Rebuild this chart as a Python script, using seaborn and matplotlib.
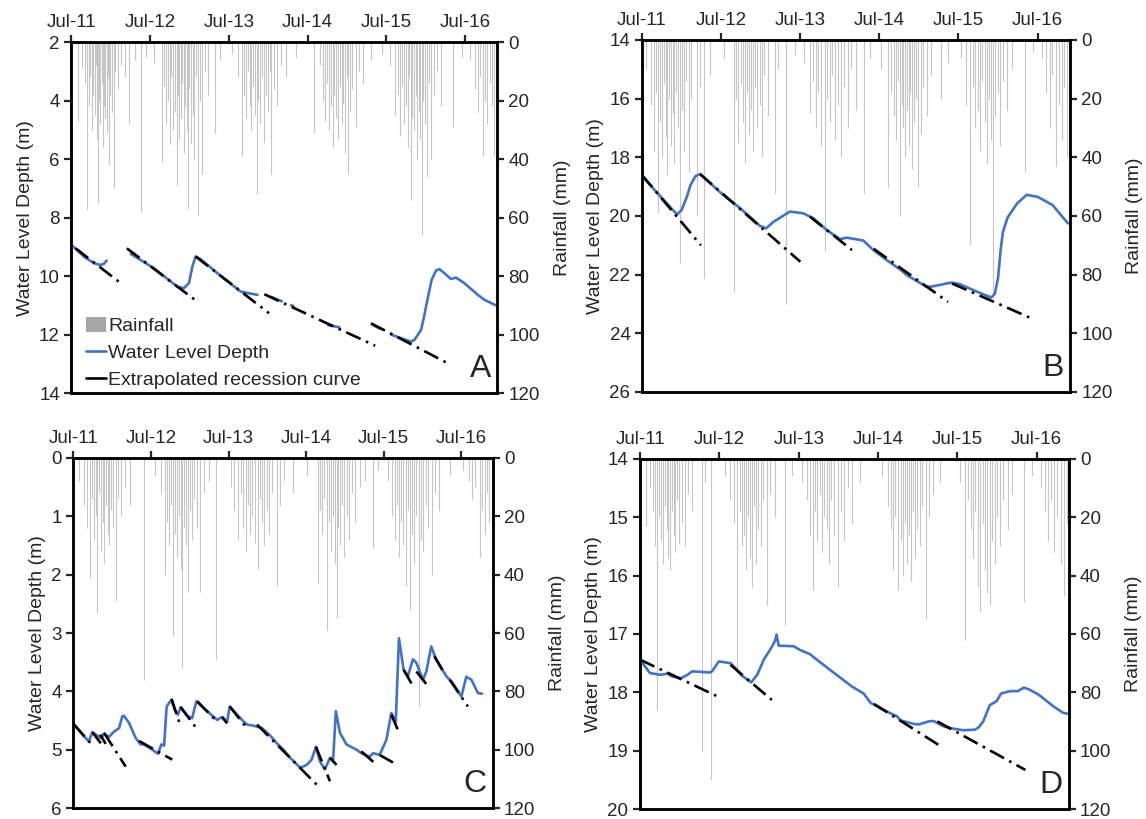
import numpy as np
import pandas as pd
import matplotlib
matplotlib.use("Agg")
import matplotlib.pyplot as plt
import matplotlib.dates as mdates
from matplotlib.lines import Line2D
from matplotlib.patches import Patch
import seaborn as sns

sns.set_style("ticks")
plt.rcParams["font.family"] = ["Liberation Sans", "DejaVu Sans"]

# ---------------------------------------------------------------- data
# Water level depth (m); a None entry marks a gap in the record.
wl_a_dates = ["2011-07-01", "2011-08-27", "2011-10-13", "2011-11-13", "2011-11-28", "2011-12-11", None,
              "2012-04-01", "2012-07-17", "2012-11-03", "2012-12-04", "2012-12-27", "2013-01-12",
              "2013-01-27", "2013-02-19", "2013-05-08", "2013-08-24", "2013-10-18", "2013-11-10", None,
              "2015-04-28", "2015-06-05", None,
              "2015-07-23", "2015-10-23", "2015-11-08", "2015-12-09", "2015-12-23", "2016-01-09",
              "2016-01-27", "2016-02-16", "2016-03-03", "2016-03-26", "2016-04-26", "2016-05-19",
              "2016-06-27", "2016-08-28", "2016-09-28"]
wl_a_depth = [8.93, 9.33, 9.56, 9.62, 9.58, 9.47, None,
              9.24, 9.73, 10.36, 10.41, 10.24, 9.67,
              9.33, 9.42, 9.90, 10.53, 10.61, 10.64, None,
              11.67, 11.81, None,
              12.00, 12.24, 12.18, 11.84, 11.38, 10.75,
              10.13, 9.81, 9.76, 9.90, 10.10, 10.05,
              10.24, 10.64, 10.81]
# intermittent readings (plotted dashed)
wl_a_sparse_dates = ["2014-01-10", "2014-04-30", None, "2014-09-30", "2014-12-16", None,
                     "2016-09-28", "2016-11-29"]
wl_a_sparse_depth = [10.70, 11.04, None, 11.67, 11.78, None, 10.81, 11.03]

wl_b_dates = ["2011-07-01", "2011-09-25", "2011-12-10", "2011-12-31", "2012-01-24", "2012-02-10",
              "2012-03-03", "2012-03-25", "2012-06-27", "2012-09-27", "2012-12-27", "2013-01-24",
              "2013-02-27", "2013-05-14", "2013-07-15", "2013-08-30", "2013-10-31", "2013-12-31",
              "2014-01-31", "2014-03-05", "2014-04-18", "2014-06-03", "2014-08-03", "2014-09-26",
              "2014-10-08", "2014-11-03", "2015-02-03", "2015-02-26", "2015-05-28", "2015-07-06",
              "2015-09-05", "2015-11-29", "2015-12-16", "2015-12-31", "2016-01-11", "2016-01-22",
              "2016-02-13", "2016-03-28", "2016-05-11", "2016-07-01", "2016-09-08", "2016-11-17"]
wl_b_depth = [18.64, 19.34, 19.95, 19.80, 19.35, 18.95,
              18.65, 18.57, 19.20, 19.74, 20.34, 20.42,
              20.20, 19.85, 19.91, 20.08, 20.48, 20.79,
              20.74, 20.78, 20.84, 21.16, 21.50, 21.78,
              21.84, 22.01, 22.41, 22.41, 22.27, 22.32,
              22.52, 22.78, 22.65, 22.10, 21.20, 20.55,
              20.05, 19.57, 19.28, 19.35, 19.63, 20.25]

wl_c_dates = ["2011-07-04", "2011-08-20", "2011-09-12", "2011-09-28", "2011-10-22", "2011-11-07",
              "2011-11-22", "2011-12-16", "2012-01-08", "2012-02-01", "2012-02-16", "2012-02-24",
              "2012-03-19", "2012-04-19", "2012-05-13", "2012-05-28", "2012-07-07", "2012-08-02",
              "2012-08-18", "2012-08-31", "2012-09-12", "2012-10-05", "2012-10-19", "2012-11-04",
              "2012-11-17", "2012-12-18", "2013-01-10", "2013-01-30", "2013-03-06", "2013-05-08",
              "2013-05-31", "2013-06-24", "2013-07-06", "2013-08-10", "2013-09-10", "2013-09-26",
              "2013-10-27", "2013-12-05", "2014-01-13", "2014-02-13", "2014-03-16", "2014-04-17",
              "2014-06-03", "2014-07-04", "2014-07-27", "2014-08-16", "2014-09-04", "2014-09-27",
              "2014-10-21", "2014-11-05", "2014-11-18", "2014-12-07", "2015-01-07", "2015-02-23",
              "2015-03-18", "2015-04-26", "2015-05-12", "2015-06-12", "2015-07-14", "2015-08-06",
              "2015-08-27", "2015-09-11", "2015-10-03", "2015-10-23", "2015-11-16", "2015-12-02",
              "2016-01-02", "2016-01-18", "2016-02-10", "2016-03-05", "2016-04-21", "2016-05-22",
              "2016-07-01", "2016-07-24", "2016-08-17", "2016-09-17", "2016-10-06"]
wl_c_depth = [4.57, 4.77, 4.86, 4.70, 4.76, 4.80,
              4.73, 4.78, 4.69, 4.63, 4.43, 4.42,
              4.54, 4.80, 4.91, 4.91, 5.00, 5.07,
              4.91, 4.93, 4.26, 4.14, 4.31, 4.40,
              4.27, 4.42, 4.46, 4.17, 4.29, 4.49,
              4.44, 4.52, 4.26, 4.40, 4.52, 4.57,
              4.59, 4.63, 4.76, 4.89, 5.00, 5.14,
              5.31, 5.26, 5.17, 4.95, 5.20, 5.34,
              5.14, 5.17, 4.34, 4.71, 4.91, 5.00,
              5.06, 5.12, 5.06, 5.09, 4.83, 4.37,
              4.52, 3.09, 3.63, 3.74, 3.45, 3.51,
              3.80, 3.66, 3.23, 3.46, 3.74, 3.86,
              4.09, 3.75, 3.80, 4.03, 4.04]

wl_d_dates = ["2011-07-01", "2011-08-16", "2011-10-03", "2011-11-03", "2011-11-28", "2012-01-04",
              "2012-02-05", "2012-02-26", "2012-05-18", "2012-05-28", "2012-06-28", "2012-08-21",
              "2012-09-16", "2012-10-14", "2012-11-24", "2012-12-22", "2013-01-21", "2013-02-21",
              "2013-03-14", "2013-03-21", "2013-03-31", "2013-06-08", "2013-07-05", "2013-08-24",
              "2013-09-12", "2013-11-24", "2014-03-03", "2014-04-26", "2014-05-28", "2014-08-22",
              "2014-09-27", "2014-10-12", "2014-12-11", "2015-01-06", "2015-02-18", "2015-03-13",
              "2015-04-28", "2015-05-24", "2015-07-29", "2015-09-21", "2015-10-08", "2015-10-29",
              "2015-11-28", "2015-12-30", "2016-01-19", "2016-02-29", "2016-04-05", "2016-05-03",
              "2016-05-27", "2016-07-10", "2016-09-16", "2016-10-30", "2016-11-24"]
wl_d_depth = [17.44, 17.67, 17.70, 17.68, 17.73, 17.76,
              17.70, 17.64, 17.66, 17.64, 17.47, 17.50,
              17.60, 17.72, 17.83, 17.70, 17.44, 17.26,
              17.12, 17.01, 17.20, 17.21, 17.27, 17.35,
              17.41, 17.62, 17.90, 18.02, 18.18, 18.35,
              18.41, 18.48, 18.54, 18.55, 18.50, 18.49,
              18.58, 18.61, 18.65, 18.64, 18.60, 18.50,
              18.22, 18.15, 18.02, 17.98, 17.98, 17.92,
              17.95, 18.04, 18.24, 18.35, 18.37]

# Extrapolated recession curves: (start date, start depth, end date, end depth)
rec_a = [("2011-07-20", 9.05, "2012-02-11", 10.22),
         ("2012-03-14", 9.05, "2013-02-03", 10.87),
         ("2013-01-27", 9.33, "2014-01-03", 11.27),
         ("2013-12-12", 10.62, "2015-05-10", 12.38),
         ("2015-04-20", 11.61, "2016-04-11", 12.98)]
rec_b = [("2011-07-01", 18.60, "2012-03-29", 21.00),
         ("2012-03-25", 18.57, "2013-07-01", 21.56),
         ("2013-08-14", 20.02, "2014-02-24", 21.16),
         ("2014-06-05", 21.12, "2015-05-14", 22.93),
         ("2015-06-01", 22.30, "2016-06-05", 23.50)]
rec_c = [("2011-07-04", 4.57, "2011-09-20", 4.89),
         ("2011-09-28", 4.70, "2011-11-07", 4.89),
         ("2011-11-04", 4.74, "2011-11-30", 4.90),
         ("2011-11-22", 4.71, "2012-03-03", 5.29),
         ("2012-05-05", 4.85, "2012-10-08", 5.17),
         ("2012-10-05", 4.13, "2012-11-14", 4.57),
         ("2012-11-17", 4.27, "2013-01-30", 4.63),
         ("2013-02-03", 4.17, "2013-05-08", 4.52),
         ("2013-05-31", 4.44, "2013-06-24", 4.55),
         ("2013-07-06", 4.26, "2013-09-21", 4.61),
         ("2013-11-12", 4.57, "2014-08-20", 5.60),
         ("2014-08-16", 4.95, "2014-10-21", 5.54),
         ("2014-10-21", 5.14, "2014-11-21", 5.26),
         ("2015-03-18", 5.03, "2015-05-20", 5.23),
         ("2015-06-12", 5.09, "2015-08-14", 5.22),
         ("2015-08-06", 4.40, "2015-09-06", 4.66),
         ("2015-10-03", 3.63, "2015-11-13", 3.89),
         ("2015-12-02", 3.66, "2016-01-21", 3.89),
         ("2016-02-25", 3.40, "2016-04-12", 3.69),
         ("2016-05-07", 3.80, "2016-08-01", 4.26)]
rec_d = [("2011-07-01", 17.44, "2012-06-22", 18.07),
         ("2012-08-21", 17.53, "2013-02-27", 18.13),
         ("2014-06-13", 18.20, "2015-04-27", 18.95),
         ("2015-04-01", 18.50, "2016-05-10", 19.33)]

# Daily rainfall events (mm)
rain_a = [("2011-07-30", 27), ("2011-08-20", 9), ("2011-09-02", 14), ("2011-09-09", 57), ("2011-09-18", 22),
          ("2011-09-27", 12), ("2011-10-05", 30), ("2011-10-11", 18), ("2011-10-17", 25), ("2011-10-23", 8),
          ("2011-10-29", 33), ("2011-11-01", 55), ("2011-11-07", 20), ("2011-11-12", 28), ("2011-11-18", 14),
          ("2011-11-24", 36), ("2011-11-30", 22), ("2011-12-05", 26), ("2011-12-11", 31), ("2011-12-17", 12),
          ("2011-12-23", 42), ("2011-12-29", 18), ("2012-01-04", 24), ("2012-01-12", 50), ("2012-01-20", 10),
          ("2012-02-02", 16), ("2012-02-15", 8), ("2012-03-05", 12), ("2012-03-26", 28), ("2012-04-20", 6),
          ("2012-05-18", 58), ("2012-06-10", 5),
          ("2012-07-20", 7), ("2012-08-24", 41), ("2012-09-03", 15), ("2012-09-12", 28), ("2012-09-20", 20),
          ("2012-09-28", 35), ("2012-10-06", 12), ("2012-10-14", 30), ("2012-10-22", 24), ("2012-10-31", 49),
          ("2012-11-06", 18), ("2012-11-13", 33), ("2012-11-20", 26), ("2012-11-27", 14), ("2012-12-04", 38),
          ("2012-12-11", 22), ("2012-12-17", 30), ("2012-12-22", 57), ("2012-12-29", 16), ("2013-01-06", 35),
          ("2013-01-13", 25), ("2013-01-21", 40), ("2013-01-28", 12), ("2013-02-06", 59), ("2013-02-14", 20),
          ("2013-02-27", 45), ("2013-03-10", 10), ("2013-03-25", 18), ("2013-04-27", 31), ("2013-05-20", 6),
          ("2013-07-15", 4), ("2013-08-10", 12), ("2013-08-29", 39), ("2013-09-08", 18), ("2013-09-17", 26),
          ("2013-09-26", 10), ("2013-10-04", 22), ("2013-10-13", 30), ("2013-10-21", 15), ("2013-10-29", 25),
          ("2013-11-06", 52), ("2013-11-14", 20), ("2013-11-23", 28), ("2013-12-01", 12), ("2013-12-09", 34),
          ("2013-12-18", 18), ("2013-12-27", 24), ("2014-01-05", 10), ("2014-01-14", 45), ("2014-01-25", 16),
          ("2014-02-08", 22), ("2014-02-25", 8), ("2014-03-20", 12), ("2014-05-10", 5),
          ("2014-07-31", 31), ("2014-08-25", 8), ("2014-09-10", 20), ("2014-09-20", 27), ("2014-09-29", 14),
          ("2014-10-09", 30), ("2014-10-17", 22), ("2014-10-25", 36), ("2014-11-02", 18), ("2014-11-10", 26),
          ("2014-11-19", 33), ("2014-11-27", 15), ("2014-12-05", 28), ("2014-12-13", 21), ("2014-12-21", 38),
          ("2014-12-29", 12), ("2015-01-05", 45), ("2015-01-14", 24), ("2015-01-24", 16), ("2015-02-09", 29),
          ("2015-02-24", 10), ("2015-03-15", 14), ("2015-04-20", 6), ("2015-06-10", 4),
          ("2015-07-20", 8), ("2015-08-12", 25), ("2015-08-24", 18), ("2015-09-03", 32), ("2015-09-12", 15),
          ("2015-09-21", 28), ("2015-09-30", 22), ("2015-10-08", 36), ("2015-10-16", 12), ("2015-10-23", 54),
          ("2015-10-30", 26), ("2015-11-06", 30), ("2015-11-14", 18), ("2015-11-22", 40), ("2015-11-29", 24),
          ("2015-12-06", 33), ("2015-12-12", 66), ("2015-12-19", 20), ("2015-12-27", 28), ("2016-01-06", 46),
          ("2016-01-15", 14), ("2016-01-24", 40), ("2016-02-05", 18), ("2016-02-20", 10), ("2016-03-10", 22),
          ("2016-05-04", 29), ("2016-06-15", 5),
          ("2016-07-25", 6), ("2016-08-15", 16), ("2016-08-28", 24), ("2016-09-08", 12), ("2016-09-20", 39),
          ("2016-10-01", 20), ("2016-10-12", 28), ("2016-10-22", 14), ("2016-11-02", 22), ("2016-11-13", 39),
          ("2016-11-24", 18)]

rain_b = [("2011-07-20", 10), ("2011-08-10", 22), ("2011-08-25", 38), ("2011-09-05", 18), ("2011-09-15", 59),
          ("2011-09-24", 28), ("2011-10-02", 40), ("2011-10-10", 15), ("2011-10-18", 33), ("2011-10-26", 46),
          ("2011-11-03", 20), ("2011-11-11", 36), ("2011-11-19", 25), ("2011-11-27", 42), ("2011-12-05", 18),
          ("2011-12-13", 30), ("2011-12-23", 76), ("2012-01-02", 24), ("2012-01-12", 38), ("2012-01-22", 14),
          ("2012-02-02", 45), ("2012-02-14", 20), ("2012-03-12", 60), ("2012-03-25", 16), ("2012-04-14", 81),
          ("2012-05-10", 12),
          ("2012-07-15", 6), ("2012-08-28", 86), ("2012-09-08", 20), ("2012-09-18", 35), ("2012-09-28", 15),
          ("2012-10-08", 28), ("2012-10-18", 42), ("2012-10-28", 18), ("2012-11-07", 32), ("2012-11-16", 24),
          ("2012-11-25", 38), ("2012-12-05", 16), ("2012-12-15", 30), ("2012-12-25", 22), ("2013-01-05", 40),
          ("2013-01-16", 12), ("2013-02-01", 26), ("2013-03-07", 52), ("2013-03-20", 10), ("2013-04-27", 90),
          ("2013-06-05", 5),
          ("2013-07-20", 8), ("2013-08-15", 25), ("2013-08-30", 14), ("2013-09-10", 30), ("2013-09-22", 18),
          ("2013-10-05", 36), ("2013-10-21", 72), ("2013-11-02", 20), ("2013-11-14", 28), ("2013-11-26", 12),
          ("2013-12-08", 34), ("2013-12-20", 22), ("2014-01-05", 40), ("2014-01-18", 16), ("2014-02-05", 30),
          ("2014-02-22", 10), ("2014-03-15", 24), ("2014-04-22", 52), ("2014-05-20", 6),
          ("2014-07-10", 10), ("2014-08-12", 50), ("2014-08-25", 18), ("2014-09-05", 26), ("2014-09-15", 34),
          ("2014-09-24", 14), ("2014-10-03", 60), ("2014-10-12", 22), ("2014-10-20", 30), ("2014-10-28", 40),
          ("2014-11-05", 24), ("2014-11-13", 36), ("2014-11-21", 18), ("2014-11-29", 44), ("2014-12-07", 28),
          ("2014-12-15", 20), ("2014-12-27", 50), ("2015-01-08", 32), ("2015-01-20", 16), ("2015-02-05", 26),
          ("2015-02-25", 12), ("2015-04-10", 20), ("2015-05-15", 8),
          ("2015-07-15", 6), ("2015-08-05", 22), ("2015-08-24", 70), ("2015-09-05", 16), ("2015-09-16", 30),
          ("2015-09-27", 24), ("2015-10-08", 38), ("2015-10-19", 14), ("2015-10-30", 28), ("2015-11-10", 42),
          ("2015-11-20", 20), ("2015-11-30", 34), ("2015-12-08", 88), ("2015-12-18", 26), ("2015-12-29", 18),
          ("2016-01-10", 36), ("2016-01-24", 14), ("2016-02-10", 24), ("2016-03-05", 10), ("2016-05-01", 45),
          ("2016-06-10", 4),
          ("2016-07-20", 6), ("2016-08-10", 18), ("2016-08-25", 30), ("2016-09-06", 12), ("2016-09-25", 43),
          ("2016-10-08", 22), ("2016-10-20", 34), ("2016-11-01", 16), ("2016-11-12", 40), ("2016-11-22", 20)]

rain_c = [("2011-07-25", 8), ("2011-08-20", 16), ("2011-09-05", 24), ("2011-09-17", 41), ("2011-09-27", 14),
          ("2011-10-06", 28), ("2011-10-14", 20), ("2011-10-22", 53), ("2011-10-30", 12), ("2011-11-07", 32),
          ("2011-11-15", 22), ("2011-11-23", 36), ("2011-12-01", 16), ("2011-12-09", 26), ("2011-12-17", 30),
          ("2011-12-26", 18), ("2012-01-05", 24), ("2012-01-16", 49), ("2012-01-28", 14), ("2012-02-10", 20),
          ("2012-03-01", 10), ("2012-03-25", 16), ("2012-05-28", 76),
          ("2012-07-20", 6), ("2012-08-15", 12), ("2012-09-02", 40), ("2012-09-12", 22), ("2012-09-22", 30),
          ("2012-10-02", 16), ("2012-10-13", 61), ("2012-10-22", 26), ("2012-10-31", 34), ("2012-11-09", 20),
          ("2012-11-17", 38), ("2012-11-24", 72), ("2012-12-03", 24), ("2012-12-12", 30), ("2012-12-21", 46),
          ("2012-12-30", 18), ("2013-01-09", 28), ("2013-01-20", 14), ("2013-02-02", 24), ("2013-02-15", 46),
          ("2013-03-05", 12), ("2013-04-01", 8), ("2013-05-02", 69),
          ("2013-07-10", 10), ("2013-07-28", 18), ("2013-08-15", 28), ("2013-08-28", 12), ("2013-09-08", 24),
          ("2013-09-19", 32), ("2013-09-30", 16), ("2013-10-10", 26), ("2013-10-21", 20), ("2013-11-04", 29),
          ("2013-11-15", 38), ("2013-11-25", 14), ("2013-12-05", 22), ("2013-12-16", 30), ("2013-12-28", 18),
          ("2014-01-08", 26), ("2014-01-20", 12), ("2014-02-13", 44), ("2014-03-01", 16), ("2014-03-20", 8),
          ("2014-05-01", 12),
          ("2014-07-05", 6), ("2014-08-27", 43), ("2014-09-06", 18), ("2014-09-15", 26), ("2014-09-24", 14),
          ("2014-10-07", 59), ("2014-10-16", 22), ("2014-10-25", 32), ("2014-11-03", 20), ("2014-11-12", 36),
          ("2014-11-21", 55), ("2014-11-30", 24), ("2014-12-09", 30), ("2014-12-18", 16), ("2014-12-28", 34),
          ("2015-01-08", 20), ("2015-01-20", 28), ("2015-02-02", 12), ("2015-02-18", 22), ("2015-03-10", 10),
          ("2015-04-05", 8), ("2015-05-13", 31), ("2015-06-05", 4),
          ("2015-07-20", 8), ("2015-08-10", 20), ("2015-08-22", 28), ("2015-09-02", 16), ("2015-09-12", 34),
          ("2015-09-22", 22), ("2015-10-02", 30), ("2015-10-12", 44), ("2015-10-22", 18), ("2015-11-04", 52),
          ("2015-11-13", 26), ("2015-11-22", 36), ("2015-12-01", 20), ("2015-12-14", 85), ("2015-12-24", 28),
          ("2016-01-04", 32), ("2016-01-15", 16), ("2016-01-28", 24), ("2016-02-12", 40), ("2016-03-01", 12),
          ("2016-03-20", 18), ("2016-05-10", 6),
          ("2016-07-10", 4), ("2016-08-05", 8), ("2016-08-20", 14), ("2016-09-02", 10), ("2016-09-25", 34),
          ("2016-10-08", 18), ("2016-10-20", 26), ("2016-11-01", 12), ("2016-11-10", 22), ("2016-11-20", 30)]

rain_d = [("2011-07-30", 23), ("2011-08-15", 10), ("2011-08-28", 18), ("2011-09-08", 30), ("2011-09-17", 86),
          ("2011-09-26", 20), ("2011-10-05", 28), ("2011-10-14", 36), ("2011-10-23", 16), ("2011-11-01", 24),
          ("2011-11-08", 34), ("2011-11-16", 38), ("2011-11-25", 18), ("2011-12-03", 26), ("2011-12-11", 32),
          ("2011-12-20", 14), ("2011-12-29", 29), ("2012-01-10", 22), ("2012-01-22", 30), ("2012-02-05", 12),
          ("2012-02-25", 18), ("2012-04-11", 100), ("2012-04-25", 8), ("2012-05-22", 110),
          ("2012-07-25", 6), ("2012-08-20", 14), ("2012-09-06", 22), ("2012-09-21", 73), ("2012-10-02", 18),
          ("2012-10-12", 30), ("2012-10-22", 26), ("2012-11-01", 38), ("2012-11-10", 20), ("2012-11-19", 34),
          ("2012-11-28", 44), ("2012-12-07", 16), ("2012-12-16", 36), ("2012-12-26", 24), ("2013-01-06", 30),
          ("2013-01-18", 14), ("2013-02-06", 50), ("2013-02-20", 12), ("2013-03-15", 20), ("2013-04-27", 57),
          ("2013-06-01", 6),
          ("2013-07-15", 8), ("2013-08-10", 14), ("2013-08-22", 26), ("2013-09-03", 45), ("2013-09-13", 18),
          ("2013-09-24", 28), ("2013-10-05", 12), ("2013-10-16", 32), ("2013-10-27", 20), ("2013-11-07", 24),
          ("2013-11-18", 36), ("2013-11-29", 14), ("2013-12-10", 26), ("2013-12-27", 44), ("2014-01-10", 18),
          ("2014-01-25", 28), ("2014-02-12", 10), ("2014-03-05", 22), ("2014-04-10", 8),
          ("2014-07-20", 6), ("2014-08-15", 16), ("2014-08-28", 24), ("2014-09-08", 38), ("2014-09-18", 20),
          ("2014-10-03", 45), ("2014-10-13", 28), ("2014-10-23", 40), ("2014-11-02", 22), ("2014-11-11", 36),
          ("2014-11-20", 26), ("2014-11-29", 42), ("2014-12-08", 18), ("2014-12-18", 34), ("2014-12-28", 24),
          ("2015-01-10", 30), ("2015-01-22", 16), ("2015-02-06", 55), ("2015-02-20", 20), ("2015-03-12", 12),
          ("2015-04-15", 8),
          ("2015-07-15", 8), ("2015-08-07", 62), ("2015-08-20", 14), ("2015-09-01", 24), ("2015-09-12", 34),
          ("2015-09-22", 18), ("2015-10-03", 44), ("2015-10-16", 52), ("2015-10-27", 22), ("2015-11-06", 38),
          ("2015-11-16", 46), ("2015-11-29", 50), ("2015-12-09", 28), ("2015-12-20", 36), ("2016-01-02", 20),
          ("2016-01-15", 30), ("2016-01-30", 14), ("2016-02-18", 24), ("2016-03-10", 12), ("2016-05-05", 49),
          ("2016-06-10", 6),
          ("2016-07-20", 10), ("2016-08-08", 18), ("2016-08-22", 28), ("2016-09-05", 14), ("2016-09-20", 32),
          ("2016-10-05", 20), ("2016-10-20", 36), ("2016-11-06", 47), ("2016-11-18", 22)]

depth_ticks_a = [2, 4, 6, 8, 10, 12, 14]
depth_ticks_b = [14, 16, 18, 20, 22, 24, 26]
depth_ticks_c = [0, 1, 2, 3, 4, 5, 6]
depth_ticks_d = [14, 15, 16, 17, 18, 19, 20]
rain_ticks = [0, 20, 40, 60, 80, 100, 120]

# ---------------------------------------------------------------- helpers
BLUE = "#4472C4"
RAIN_GREY = "#c6c6c6"
DASHDOT = (0, (6, 2.2, 1, 2.2))
FS_TICK = 13.5
FS_LABEL = 14


def series_frame(dates, depths):
    rows, seg = [], 0
    for d, v in zip(dates, depths):
        if d is None:
            seg += 1
            continue
        rows.append((pd.Timestamp(d), v, seg))
    return pd.DataFrame(rows, columns=["date", "depth", "seg"])


def recession_frame(lines):
    rows = []
    for i, (d0, v0, d1, v1) in enumerate(lines):
        rows.append((pd.Timestamp(d0), v0, i))
        rows.append((pd.Timestamp(d1), v1, i))
    return pd.DataFrame(rows, columns=["date", "depth", "seg"])


def draw_panel(rect, letter, wl, rain, rec, dticks, sparse=None, legend=False):
    ax = fig.add_axes(rect)
    ax2 = ax.twinx()
    ax.set_zorder(ax2.get_zorder() + 1)
    ax.patch.set_visible(False)

    r = pd.DataFrame(rain, columns=["date", "mm"])
    r["date"] = pd.to_datetime(r["date"])
    ax2.vlines(r["date"], 0, r["mm"], color=RAIN_GREY, lw=0.8)
    ax2.set_ylim(120, 0)
    ax2.set_yticks(rain_ticks)
    ax2.set_ylabel("Rainfall (mm)", fontsize=FS_LABEL, labelpad=10)

    sns.lineplot(data=wl, x="date", y="depth", units="seg", estimator=None,
                 color=BLUE, lw=1.9, ax=ax)
    if sparse is not None:
        sns.lineplot(data=sparse, x="date", y="depth", units="seg", estimator=None,
                     color=BLUE, lw=1.9, linestyle=(0, (5, 3)), ax=ax)
    sns.lineplot(data=rec, x="date", y="depth", units="seg", estimator=None,
                 color="black", lw=1.9, linestyle=DASHDOT, ax=ax)

    ax.set_xlim(pd.Timestamp("2011-06-29"), pd.Timestamp("2016-11-27"))
    ax.set_ylim(dticks[-1], dticks[0])
    ax.set_yticks(dticks)
    ax.xaxis.set_major_locator(mdates.MonthLocator(bymonth=7))
    ax.xaxis.set_major_formatter(mdates.DateFormatter("%b-%y"))
    ax.xaxis.tick_top()
    ax.set_xlabel("")
    ax.set_ylabel("Water Level Depth (m)", fontsize=FS_LABEL, labelpad=4)

    for a in (ax, ax2):
        for s in a.spines.values():
            s.set_linewidth(1.8)
            s.set_color("black")
        a.tick_params(direction="out", length=5, width=1.6, labelsize=FS_TICK, pad=3)

    ax.text(0.985, 0.025, letter, transform=ax.transAxes, ha="right", va="bottom",
            fontsize=23, bbox=dict(facecolor="white", edgecolor="none", pad=1.5), zorder=10)

    if legend:
        handles = [Patch(facecolor="#a6a6a6", edgecolor="none"),
                   Line2D([], [], color=BLUE, lw=1.9),
                   Line2D([], [], color="black", lw=1.9)]
        labels = ["Rainfall", "Water Level Depth", "Extrapolated recession curve"]
        ax.legend(handles, labels, loc="lower left", bbox_to_anchor=(0.025, 0.0),
                  frameon=False, fontsize=FS_LABEL, handlelength=1.05, handleheight=0.8,
                  handletextpad=0.1, labelspacing=0.45, borderaxespad=0, borderpad=0.2)
    return ax


fig = plt.figure(figsize=(11.46, 8.19), dpi=100)

draw_panel([0.062, 0.520, 0.372, 0.4286], "A", series_frame(wl_a_dates, wl_a_depth), rain_a,
           recession_frame(rec_a), depth_ticks_a,
           sparse=series_frame(wl_a_sparse_dates, wl_a_sparse_depth), legend=True)
draw_panel([0.5598, 0.5214, 0.3739, 0.4298], "B", series_frame(wl_b_dates, wl_b_depth), rain_b,
           recession_frame(rec_b), depth_ticks_b)
draw_panel([0.0637, 0.0134, 0.3665, 0.4274], "C", series_frame(wl_c_dates, wl_c_depth), rain_c,
           recession_frame(rec_c), depth_ticks_c)
draw_panel([0.5581, 0.0122, 0.3747, 0.4274], "D", series_frame(wl_d_dates, wl_d_depth), rain_d,
           recession_frame(rec_d), depth_ticks_d)

fig.savefig("out.png", dpi=100)
